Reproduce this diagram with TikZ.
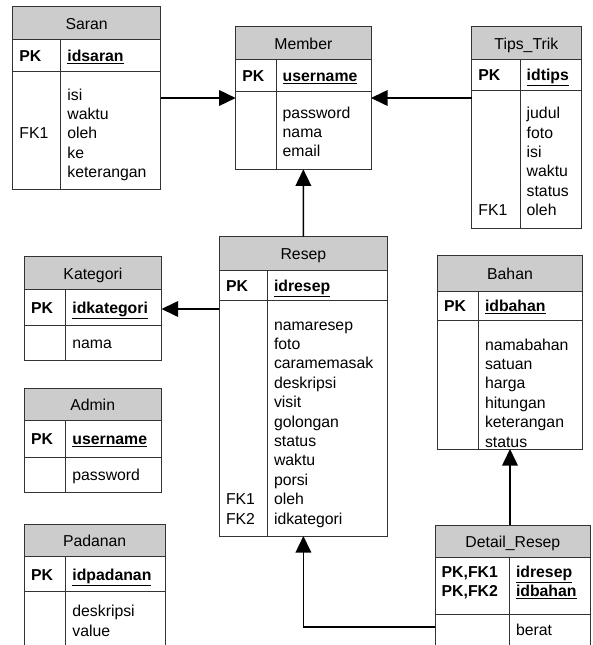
\documentclass[tikz,border=0pt]{standalone}
\usepackage{fontspec}
\setmainfont{Liberation Sans}
\usetikzlibrary{arrows.meta}

\begin{document}
\begin{tikzpicture}[x=1pt,y=-1pt]
% estilos separados
\tikzset{
  tbl/.style={draw=black!80, line width=0.8pt, anchor=north west, inner sep=0pt, outer sep=0pt},
  hdr/.style={draw=black!80, line width=0.8pt, fill=black!20},
  sep/.style={draw=black!80, line width=0.8pt},
  title/.style={inner sep=0pt, text height=12.5pt, text depth=0pt, font=\fontsize{15.8}{19.4}\selectfont},
  key/.style={anchor=west, inner sep=0pt, text height=12.5pt, text depth=0pt, font=\fontsize{15.8}{19.4}\selectfont\bfseries},
  fld/.style={anchor=north west, inner sep=0pt, align=left, font=\fontsize{15.8}{19.4}\selectfont},
  keyl/.style={fld, font=\fontsize{15.8}{19.4}\selectfont\bfseries},
  rel/.style={line width=1.6pt, -{Triangle[length=16.5pt, width=15.5pt]}}
}
\useasboundingbox (0,0) rectangle (593,645);
\clip (0,0) rectangle (593,645);

% Saran
\node[tbl, minimum width=148pt, minimum height=182.3pt] (saran) at (12.7,6.7) {};
\draw[hdr] (12.7,6.7) rectangle (160.7,39.3);
\draw[sep] (12.7,71) -- (160.7,71) (60.7,39.3) -- (60.7,189);
\node[title] (saran-t) at (86.7,23) {Saran};
\node[key] (saran-pk) at (19.2,55.2) {PK};
\node[key] (saran-id) at (67.2,55.2) {\underline{idsaran}};
\node[fld] (saran-f) at (67.2,86.4) {\strut isi\\waktu\\oleh\\ke\\keterangan};
\node[fld] (saran-fk) at (19.2,125.2) {\strut FK1};

% Member
\node[tbl, minimum width=135.3pt, minimum height=142.6pt] (member) at (235.7,26.7) {};
\draw[hdr] (235.7,26.7) rectangle (371,59.3);
\draw[sep] (235.7,91.7) -- (371,91.7) (276,59.3) -- (276,169.3);
\node[title] (member-t) at (303.35,43) {Member};
\node[key] (member-pk) at (242.2,75.5) {PK};
\node[key] (member-id) at (282.5,75.5) {\underline{username}};
\node[fld] (member-f) at (282.5,104.4) {\strut password\\nama\\email};

% Tips_Trik
\node[tbl, minimum width=109.3pt, minimum height=201.6pt] (tips) at (471.7,26.7) {};
\draw[hdr] (471.7,26.7) rectangle (581,59.3);
\draw[sep] (471.7,90) -- (581,90) (520,59.3) -- (520,228.3);
\node[title] (tips-t) at (526.35,43) {Tips\_Trik};
\node[key] (tips-pk) at (478.2,74.7) {PK};
\node[key] (tips-id) at (526.5,74.7) {\underline{idtips}};
\node[fld] (tips-f) at (526.5,104.9) {\strut judul\\foto\\isi\\waktu\\status\\oleh};
\node[fld] (tips-fk) at (478.2,201.9) {\strut FK1};

% Kategori
\node[tbl, minimum width=137.2pt, minimum height=103.3pt] (kategori) at (24.3,256.7) {};
\draw[hdr] (24.3,256.7) rectangle (161.5,289.3);
\draw[sep] (24.3,325) -- (161.5,325) (65.7,289.3) -- (65.7,360);
\node[title] (kategori-t) at (92.9,273) {Kategori};
\node[key] (kategori-pk) at (30.8,307.2) {PK};
\node[key] (kategori-id) at (72.2,307.2) {\underline{idkategori}};
\node[fld] (kategori-f) at (72.2,334.7) {\strut nama};

% Admin
\node[tbl, minimum width=136.7pt, minimum height=104.4pt] (admin) at (24.3,388.3) {};
\draw[hdr] (24.3,388.3) rectangle (161,420);
\draw[sep] (24.3,457.3) -- (161,457.3) (65.7,420) -- (65.7,492.7);
\node[title] (admin-t) at (92.65,404.2) {Admin};
\node[key] (admin-pk) at (30.8,438.7) {PK};
\node[key] (admin-id) at (72.2,438.7) {\underline{username}};
\node[fld] (admin-f) at (72.2,466.4) {\strut password};

% Padanan
\node[tbl, minimum width=140.7pt, minimum height=175.7pt] (padanan) at (24.3,524.3) {};
\draw[hdr] (24.3,524.3) rectangle (165,556.7);
\draw[sep] (24.3,591) -- (165,591) (65.7,556.7) -- (65.7,700);
\node[title] (padanan-t) at (94.65,540.5) {Padanan};
\node[key] (padanan-pk) at (30.8,573.9) {PK};
\node[key] (padanan-id) at (72.2,573.9) {\underline{idpadanan}};
\node[fld] (padanan-f) at (72.2,603.1) {\strut deskripsi\\value};

% Resep
\node[tbl, minimum width=168.2pt, minimum height=299.3pt] (resep) at (219.3,236.7) {};
\draw[hdr] (219.3,236.7) rectangle (387.5,270);
\draw[sep] (219.3,300) -- (387.5,300) (267.3,270) -- (267.3,536);
\node[title] (resep-t) at (303.4,253.4) {Resep};
\node[key] (resep-pk) at (225.8,285) {PK};
\node[key] (resep-id) at (273.8,285) {\underline{idresep}};
\node[fld] (resep-f) at (273.8,316.4) {\strut namaresep\\foto\\caramemasak\\deskripsi\\visit\\golongan\\status\\waktu\\porsi\\oleh\\idkategori};
\node[fld] (resep-fk) at (225.8,491) {\strut FK1\\FK2};

% Bahan
\node[tbl, minimum width=145.4pt, minimum height=194pt] (bahan) at (437.3,255) {};
\draw[hdr] (437.3,255) rectangle (582.7,291);
\draw[sep] (437.3,320) -- (582.7,320) (478.3,291) -- (478.3,449);
\node[title] (bahan-t) at (510,273) {Bahan};
\node[key] (bahan-pk) at (443.8,305.5) {PK};
\node[key] (bahan-id) at (484.8,305.5) {\underline{idbahan}};
\node[fld] (bahan-f) at (484.8,336.4) {\strut namabahan\\satuan\\harga\\hitungan\\keterangan\\status};

% Detail_Resep
\node[tbl, minimum width=155.7pt, minimum height=175pt] (detail) at (435,525) {};
\draw[hdr] (435,525) rectangle (590.7,557);
\draw[sep] (435,614) -- (590.7,614) (509.3,557) -- (509.3,700);
\node[title] (detail-t) at (512.85,541) {Detail\_Resep};
\node[keyl] (detail-pk) at (441.5,563.7) {\strut PK,FK1\\PK,FK2};
\node[keyl] (detail-id) at (515.8,563.7) {\strut\underline{idresep}\\\underline{idbahan}};
\node[fld] (detail-f) at (515.8,622.1) {\strut berat};

% relasi
\draw[rel] (saran.east |- 0,98) -- (member.west |- 0,98);
\draw[rel] (tips.west |- 0,98) -- (member.east |- 0,98);
\draw[rel] (resep.north) -- (member.south);
\draw[rel] (resep.west |- 0,309) -- (kategori.east |- 0,309);
\draw[rel] (510,0 |- detail.north) -- (510,0 |- bahan.south);
\draw[rel] (detail.west |- 0,626.7) -| (resep.south);
\end{tikzpicture}
\end{document}
